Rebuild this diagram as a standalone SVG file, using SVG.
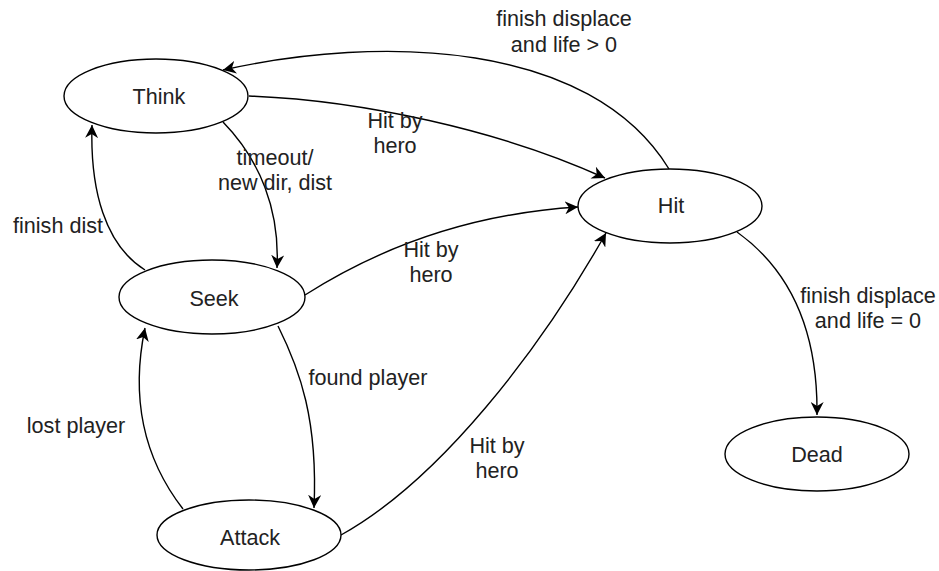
<svg xmlns="http://www.w3.org/2000/svg" width="939" height="571" viewBox="0 0 939 571">
<style>
.n{fill:#fff;stroke:#000;stroke-width:1.4}
.e{fill:none;stroke:#000;stroke-width:1.4;marker-end:url(#a)}
text{font-family:"Liberation Sans",Arial,sans-serif;font-size:21.6px;fill:#222;text-anchor:middle}
</style>
<defs>
<marker id="a" viewBox="0 0 10 10" refX="10" refY="5" markerWidth="13" markerHeight="13" markerUnits="userSpaceOnUse" orient="auto">
<path d="M0,0 L10,5 L0,10 L3,5 z" fill="#000"/>
</marker>
</defs>
<rect width="939" height="571" fill="#fff"/>
<g id="connectors">
<path class="e" d="M669,169 C590,40 380,35 223,70"/>
<path class="e" d="M249,96 C360,100 500,130 605,178"/>
<path class="e" d="M223,122 C260,160 280,210 277,268"/>
<path class="e" d="M145,270 C105,245 90,190 92,125"/>
<path class="e" d="M305,295 C360,260 450,215 578,207"/>
<path class="e" d="M278,326 C300,370 318,420 314,508"/>
<path class="e" d="M183,509 C145,460 130,400 145,328"/>
<path class="e" d="M341,535 C440,480 540,350 606,233"/>
<path class="e" d="M737,232 C790,270 818,330 817,415"/>
<text x="564" y="26">finish displace</text>
<text x="564" y="52">and life &gt; 0</text>
<text x="395" y="128">Hit by</text>
<text x="395" y="153">hero</text>
<text x="275" y="165">timeout/</text>
<text x="275" y="190">new dir, dist</text>
<text x="58" y="233">finish dist</text>
<text x="431" y="257">Hit by</text>
<text x="431" y="282">hero</text>
<text x="368" y="385">found player</text>
<text x="76" y="433">lost player</text>
<text x="497" y="453">Hit by</text>
<text x="497" y="478">hero</text>
<text x="868" y="303">finish displace</text>
<text x="868" y="328">and life = 0</text>
</g>
<g id="think"><ellipse class="n" cx="156" cy="96" rx="92" ry="37"/><text x="159" y="104">Think</text></g>
<g id="seek"><ellipse class="n" cx="212" cy="297" rx="93" ry="37"/><text x="214" y="306">Seek</text></g>
<g id="attack"><ellipse class="n" cx="249" cy="535" rx="92" ry="35"/><text x="250" y="545">Attack</text></g>
<g id="hit"><ellipse class="n" cx="670" cy="206" rx="92" ry="37"/><text x="671" y="213">Hit</text></g>
<g id="dead"><ellipse class="n" cx="817" cy="454" rx="92" ry="37"/><text x="817" y="462">Dead</text></g>
</svg>
